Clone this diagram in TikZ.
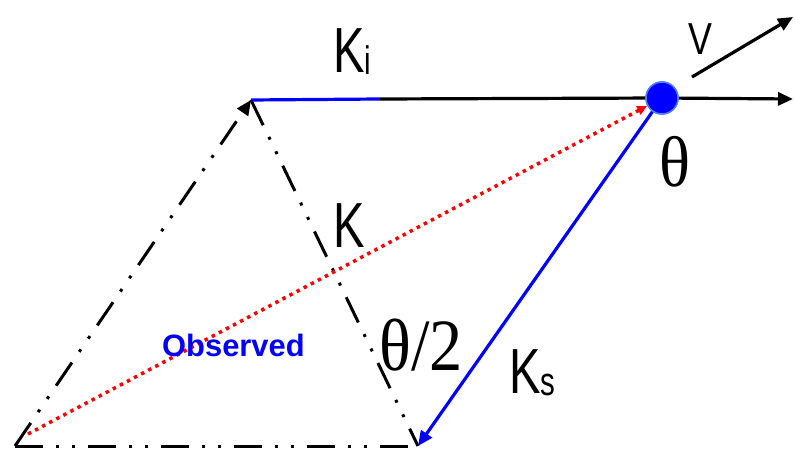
\documentclass[tikz,border=0pt]{standalone}
\usepackage{fontspec}
\setmainfont{Liberation Sans}
\newfontfamily\thetafont{Liberation Serif}
\usepackage{xcolor}
\definecolor{kblue}{RGB}{0,0,255}
\definecolor{kdotrim}{RGB}{80,125,255}
\definecolor{kred}{RGB}{255,0,0}
\usetikzlibrary{arrows.meta,positioning}
\tikzset{
  dashdotdot/.style={draw=black, line width=3bp,
                     dash pattern=on 28bp off 13bp on 3bp off 13bp on 3bp off 13bp},
  kline/.style={draw=#1, line width=3.2bp},
  obsline/.style={draw=kred, line width=3.5bp, dash pattern=on 3.5bp off 4.5bp},
  ktip/.style={-{Triangle[length=15bp,width=13bp]}},
  klabel/.style={font=\fontsize{64}{64}\selectfont, xscale=0.74, inner sep=0pt, anchor=base west},
  thlabel/.style={font=\fontsize{74}{74}\selectfont, xscale=0.9, inner sep=0pt},
  scatdot/.style={circle, fill=kblue, draw=kdotrim, line width=1.5bp,
                  minimum size=32bp, inner sep=0pt},
}
\newcommand{\ksub}[1]{\raisebox{-2bp}{\fontsize{40}{40}\selectfont #1}}

\begin{document}
\begin{tikzpicture}[x=1bp, y=-1bp]
\useasboundingbox (0,0) rectangle (795,450);

% --- Corners of the parallelogram ---
\coordinate (origin) at (15,446);
\coordinate (top) at (251,100);
\coordinate (bottom) at (418,446);
\coordinate (kimid) at (380,99);
\coordinate (obsstart) at (28,434);
\coordinate (xend) at (793,99);
\coordinate (vstart) at (692,77);
\coordinate (vend) at (793,17);

% Scattering point
\node[scatdot] (scat) at (662,98) {};

% Dash-dot construction lines
\draw[dashdotdot] (origin) -- (bottom);
\draw[dashdotdot] (top) -- (bottom);
\draw[dashdotdot, ktip] (origin) -- (top);

% Incident wave vector
\draw[kline=kblue] (top) -- (kimid);
\draw[kline=black] (kimid) -- (scat);

% Observed direction
\draw[obsline, -{Triangle[length=10bp,width=9bp]}] (obsstart) -- (scat);

% Scattered wave vector
\draw[kline=kblue, ktip] (scat) -- (bottom);

% Beam direction and velocity
\draw[kline=black, ktip] (scat) -- (xend);
\draw[kline=black, ktip] (vstart) -- (vend);
\node[scatdot] at (scat) {};

% Labels
\node[klabel] (kilabel) at (333,73) {K\ksub{i}};
\node[klabel] (klabel) at (333,248) {K};
\node[klabel] (kslabel) at (509,393) {K\ksub{s}};
\node[klabel, font=\fontsize{45}{45}\selectfont, xscale=1.08] (vlabel) at (688,55) {V};
\node[thlabel, font=\fontsize{72}{72}\selectfont] (thlabel) at (675,162) {\thetafont θ};
\node[thlabel] (halflabel) at (421,345) {\thetafont θ/2};
\node[font=\fontsize{31}{31}\selectfont\bfseries, text=kblue, inner sep=0pt,
      anchor=base west] (obslabel) at (162,357) {Observed};

\end{tikzpicture}
\end{document}
